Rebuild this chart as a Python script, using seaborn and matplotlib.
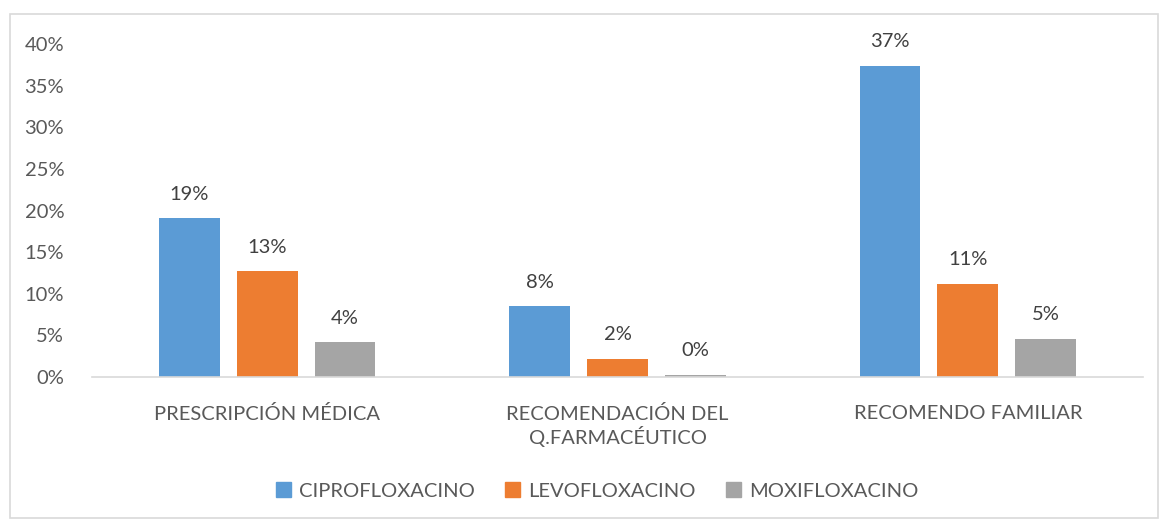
import matplotlib
matplotlib.use("Agg")
import matplotlib.pyplot as plt
import matplotlib.patches as mpatches
from matplotlib.ticker import FuncFormatter, MultipleLocator
import seaborn as sns
import pandas as pd

categories = ["PRESCRIPCIÓN MÉDICA", "RECOMENDACIÓN DEL\nQ.FARMACÉUTICO", "RECOMENDO FAMILIAR"]
series = ["CIPROFLOXACINO", "LEVOFLOXACINO", "MOXIFLOXACINO"]
ciprofloxacino = [0.191, 0.085, 0.374]
levofloxacino = [0.127, 0.022, 0.112]
moxifloxacino = [0.042, 0.003, 0.046]
colors = ["#5B9BD5", "#ED7D31", "#A5A5A5"]

rows = []
for s, vals in zip(series, [ciprofloxacino, levofloxacino, moxifloxacino]):
    for c, v in zip(categories, vals):
        rows.append({"cat": c, "drug": s, "val": v})
df = pd.DataFrame(rows)

sns.set_theme(style="white")
plt.rcParams["font.family"] = ["Lato", "DejaVu Sans"]
text_color = "#595959"

fig = plt.figure(figsize=(11.62, 5.2), dpi=100)
ax = fig.add_axes([92/1162, 1-377/520, (1143-92)/1162, (377-44)/520])

sns.barplot(data=df, x="cat", y="val", hue="drug", order=categories, hue_order=series,
            palette=colors, width=0.667, gap=0.22, saturation=1, ax=ax, legend=False,
            edgecolor="none")

for cont in ax.containers:
    ax.bar_label(cont, labels=[f"{round(b.get_height()*100):.0f}%" for b in cont],
                 padding=11, fontsize=14.5, color="#404040")

ax.set_ylim(0, 0.40)
ax.yaxis.set_major_locator(MultipleLocator(0.05))
ax.yaxis.set_major_formatter(FuncFormatter(lambda v, p: f"{v*100:.0f}%"))
ax.set_xlabel("")
ax.set_ylabel("")
ax.tick_params(axis="both", length=0, labelsize=14.5, colors=text_color)
ax.tick_params(axis="y", pad=20)
ax.tick_params(axis="x", pad=20)
for sp in ["top", "right", "left"]:
    ax.spines[sp].set_visible(False)
ax.spines["bottom"].set_color("#D9D9D9")
ax.spines["bottom"].set_linewidth(1.2)
ax.set_xlim(-0.5, 2.5)

handles = [mpatches.Patch(color=c, label=s) for c, s in zip(colors, series)]
fig.legend(handles=handles, loc="center", bbox_to_anchor=(597/1162, 1-491/520), ncol=3,
           frameon=False, fontsize=14.5, labelcolor=text_color, handlelength=0.75,
           handleheight=0.75, handletextpad=0.4, columnspacing=1.5)

border = mpatches.Rectangle((10/1162, 2/520), 1148/1162, 504/520, transform=fig.transFigure,
                            fill=False, edgecolor="#D9D9D9", linewidth=1.2)
fig.patches.append(border)

fig.savefig("out.png", dpi=100)
